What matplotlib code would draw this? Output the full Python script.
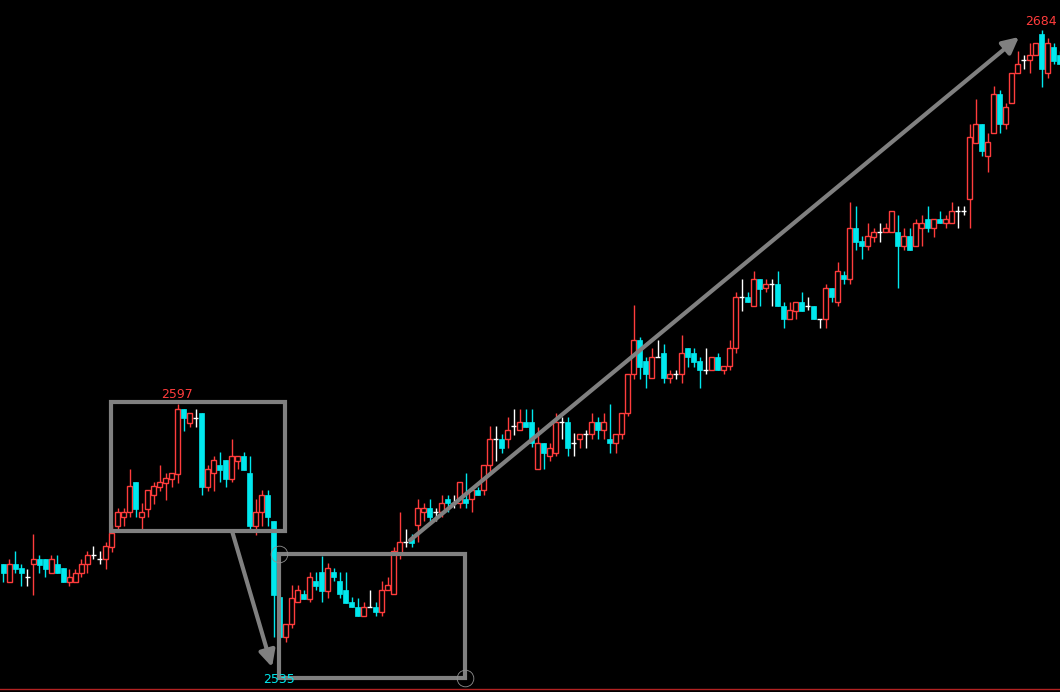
import matplotlib
matplotlib.use('Agg')
import matplotlib.pyplot as plt
from matplotlib.patches import Rectangle

UP = '#ff3c3c'
DOWN = '#00e8ee'
DOJI = '#ffffff'
ANNO = '#808080'

opens = [2559.8, 2555.6, 2559.8, 2558.8, 2556.7, 2559.8, 2560.9, 2560.9, 2557.7, 2559.8,
         2558.8, 2555.6, 2555.6, 2557.7, 2559.8, 2561.9, 2560.9, 2560.9, 2563.7, 2568.6,
         2570.7, 2571.9, 2578.8, 2570.7, 2572.6, 2575.8, 2577.7, 2578.6, 2579.5, 2580.7,
         2595.8, 2592.6, 2593.7, 2594.9, 2577.7, 2580.9, 2582.8, 2584.0, 2579.5, 2583.7,
         2584.9, 2580.9, 2568.6, 2571.9, 2575.8, 2569.8, 2552.1, 2542.8, 2545.8, 2550.9,
         2552.8, 2551.6, 2555.8, 2557.9, 2553.5, 2557.9, 2555.8, 2553.7, 2550.9, 2549.8,
         2547.7, 2549.8, 2549.8, 2548.6, 2553.7, 2552.8, 2562.3, 2564.9, 2565.6, 2568.8,
         2571.9, 2572.8, 2571.9, 2571.9, 2574.9, 2574.0, 2574.0, 2574.9, 2574.9, 2577.0,
         2577.0, 2582.8, 2588.8, 2588.8, 2588.8, 2591.9, 2590.9, 2592.8, 2592.8, 2581.9,
         2587.9, 2584.9, 2585.6, 2592.8, 2592.8, 2587.9, 2588.8, 2590.0, 2590.0, 2592.8,
         2590.9, 2588.8, 2587.9, 2590.0, 2594.9, 2604.0, 2611.9, 2607.0, 2603.0, 2607.9,
         2608.9, 2603.0, 2604.0, 2604.0, 2610.0, 2608.9, 2607.0, 2604.9, 2604.9, 2607.9,
         2604.9, 2605.8, 2610.0, 2621.9, 2621.9, 2619.8, 2626.1, 2624.0, 2624.9, 2624.9,
         2619.8, 2616.8, 2618.6, 2620.7, 2619.8, 2619.8, 2616.8, 2616.8, 2624.0, 2620.7,
         2627.0, 2626.1, 2637.9, 2634.9, 2633.8, 2635.9, 2637.0, 2637.0, 2637.0, 2637.0,
         2633.8, 2636.1, 2633.8, 2637.9, 2640.0, 2637.9, 2640.0, 2639.1, 2639.1, 2641.9,
         2641.9, 2644.7, 2657.7, 2662.1, 2654.7, 2660.1, 2669.1, 2662.1, 2667.0, 2674.0,
         2677.0, 2677.0, 2678.2, 2683.1, 2674.0, 2680.1, 2678.2]
highs = [2559.8, 2560.9, 2562.8, 2559.8, 2558.6, 2566.7, 2561.9, 2560.9, 2561.9, 2561.9,
         2558.8, 2558.6, 2558.6, 2560.9, 2562.8, 2563.9, 2562.8, 2564.9, 2568.8, 2572.8,
         2572.8, 2581.9, 2578.8, 2574.0, 2577.0, 2578.8, 2582.8, 2580.9, 2580.9, 2597.0,
         2595.8, 2594.9, 2595.8, 2594.9, 2582.8, 2584.9, 2585.8, 2584.0, 2588.8, 2584.9,
         2585.8, 2584.9, 2574.9, 2577.0, 2577.0, 2569.8, 2552.1, 2545.8, 2554.9, 2554.9,
         2553.7, 2557.9, 2557.9, 2561.6, 2560.0, 2558.8, 2557.9, 2557.9, 2552.1, 2551.8,
         2550.9, 2553.7, 2550.9, 2555.8, 2556.7, 2563.7, 2571.9, 2567.9, 2566.7, 2574.9,
         2574.0, 2574.9, 2572.8, 2575.8, 2575.8, 2575.8, 2578.8, 2580.9, 2577.0, 2577.7,
         2582.8, 2591.9, 2591.9, 2590.0, 2594.0, 2595.8, 2595.8, 2595.8, 2595.8, 2591.6,
         2587.9, 2587.9, 2594.9, 2594.0, 2594.0, 2590.2, 2590.0, 2590.9, 2594.9, 2594.0,
         2594.9, 2597.0, 2590.0, 2594.9, 2604.0, 2620.0, 2612.6, 2607.9, 2610.0, 2611.9,
         2611.0, 2604.9, 2604.9, 2613.0, 2610.0, 2610.0, 2607.9, 2610.0, 2607.9, 2608.9,
         2605.8, 2611.9, 2623.1, 2626.1, 2623.1, 2627.9, 2626.1, 2626.1, 2626.1, 2627.9,
         2620.7, 2620.7, 2620.7, 2623.1, 2621.9, 2619.8, 2616.8, 2624.9, 2624.0, 2630.0,
         2627.9, 2644.0, 2643.1, 2636.1, 2639.1, 2637.9, 2639.1, 2639.1, 2641.9, 2641.0,
         2637.9, 2637.9, 2640.0, 2641.0, 2643.1, 2640.0, 2641.9, 2641.0, 2644.0, 2643.1,
         2643.1, 2662.1, 2668.0, 2662.1, 2660.1, 2671.0, 2670.1, 2667.0, 2674.0, 2679.1,
         2678.2, 2681.0, 2681.0, 2684.0, 2682.2, 2681.0, 2679.1]
lows = [2555.6, 2555.6, 2557.7, 2554.6, 2554.6, 2552.5, 2557.7, 2556.7, 2557.7, 2557.7,
        2555.6, 2554.6, 2555.6, 2556.7, 2557.7, 2560.9, 2559.8, 2558.6, 2562.5, 2567.9,
        2568.6, 2570.7, 2570.7, 2567.9, 2570.7, 2573.7, 2576.7, 2574.6, 2577.7, 2578.6,
        2590.7, 2591.6, 2591.6, 2575.8, 2576.7, 2576.7, 2578.8, 2577.7, 2578.8, 2581.9,
        2581.6, 2567.9, 2566.5, 2568.6, 2568.6, 2542.8, 2542.5, 2541.6, 2544.9, 2550.9,
        2551.6, 2550.9, 2553.7, 2550.9, 2551.8, 2555.8, 2551.8, 2550.7, 2549.8, 2547.7,
        2547.7, 2549.8, 2547.7, 2547.7, 2553.7, 2552.8, 2560.9, 2563.7, 2563.7, 2564.9,
        2569.8, 2569.8, 2569.8, 2570.7, 2571.9, 2572.8, 2572.8, 2572.8, 2571.9, 2575.8,
        2575.8, 2580.9, 2583.7, 2585.6, 2586.8, 2589.8, 2590.9, 2591.6, 2587.0, 2581.9,
        2581.9, 2583.7, 2584.9, 2588.8, 2584.9, 2584.9, 2586.8, 2586.8, 2588.8, 2588.8,
        2588.8, 2585.6, 2585.6, 2588.8, 2594.2, 2602.8, 2602.8, 2600.7, 2603.0, 2607.9,
        2601.9, 2601.9, 2602.8, 2601.9, 2605.6, 2605.6, 2600.7, 2604.0, 2604.9, 2604.9,
        2604.0, 2604.9, 2608.9, 2618.7, 2620.7, 2619.8, 2619.8, 2623.1, 2619.8, 2619.8,
        2614.7, 2616.8, 2616.8, 2618.6, 2618.9, 2616.8, 2614.7, 2614.7, 2620.7, 2619.8,
        2624.9, 2624.9, 2632.8, 2630.7, 2632.8, 2634.7, 2634.7, 2637.0, 2637.0, 2624.0,
        2632.8, 2632.8, 2633.8, 2633.8, 2637.0, 2635.9, 2639.1, 2637.9, 2639.1, 2637.9,
        2641.0, 2637.9, 2657.7, 2654.7, 2651.0, 2660.1, 2660.1, 2661.0, 2667.0, 2674.0,
        2674.9, 2674.0, 2678.2, 2670.8, 2672.8, 2676.1, 2676.1]
closes = [2557.7, 2559.8, 2558.6, 2557.7, 2556.7, 2560.9, 2559.5, 2558.6, 2560.9, 2557.7,
          2555.6, 2556.7, 2557.7, 2559.8, 2561.9, 2561.9, 2560.9, 2563.9, 2567.0, 2571.9,
          2571.9, 2577.9, 2572.6, 2571.9, 2577.0, 2577.9, 2578.8, 2579.8, 2580.9, 2595.8,
          2593.7, 2594.9, 2593.7, 2577.7, 2581.9, 2584.0, 2581.6, 2579.5, 2584.9, 2584.9,
          2581.6, 2568.6, 2571.9, 2575.8, 2570.7, 2552.5, 2542.8, 2545.8, 2551.8, 2553.7,
          2551.6, 2556.7, 2554.6, 2553.5, 2558.8, 2556.7, 2552.8, 2550.7, 2549.8, 2547.7,
          2549.8, 2549.8, 2548.6, 2553.7, 2554.9, 2562.8, 2564.9, 2564.9, 2564.6, 2572.8,
          2572.8, 2570.7, 2571.9, 2574.0, 2574.0, 2574.0, 2578.8, 2574.0, 2577.0, 2575.8,
          2582.8, 2588.8, 2588.8, 2586.8, 2590.9, 2591.9, 2592.8, 2591.6, 2587.9, 2587.9,
          2585.6, 2586.8, 2592.8, 2592.8, 2586.8, 2587.9, 2590.0, 2590.0, 2592.8, 2590.9,
          2592.8, 2587.9, 2590.0, 2594.9, 2604.0, 2611.9, 2605.6, 2604.0, 2607.9, 2607.9,
          2603.0, 2604.0, 2604.0, 2608.9, 2607.9, 2606.8, 2604.9, 2604.9, 2607.9, 2604.9,
          2605.8, 2610.0, 2621.9, 2621.9, 2620.7, 2626.1, 2623.7, 2624.9, 2624.9, 2619.8,
          2616.8, 2618.9, 2620.7, 2618.6, 2619.8, 2616.8, 2616.8, 2624.0, 2621.9, 2627.9,
          2626.1, 2637.9, 2634.7, 2633.8, 2636.1, 2637.0, 2637.0, 2637.9, 2641.9, 2633.8,
          2636.1, 2632.8, 2639.1, 2639.1, 2637.9, 2640.0, 2639.1, 2640.0, 2641.9, 2641.9,
          2641.9, 2659.1, 2662.1, 2655.9, 2658.0, 2669.1, 2662.1, 2666.1, 2674.0, 2676.1,
          2677.0, 2678.2, 2681.0, 2674.9, 2681.0, 2676.8, 2676.1]

# annotations
box_hi = (17.9, 46.9, 2567.4, 2597.5)
box_lo = (45.9, 76.9, 2533.2, 2562.1)
arrow_down = ((38.1, 2567.4), (44.75, 2535.8))
arrow_up = ((67.75, 2565.3), (169.25, 2682.4))
circles = [(45.9, 2562.1), (76.9, 2533.2)]
labels = [('2597', 28.9, 2599.1, UP), ('2684', 172.9, 2685.9, UP), ('2535', 45.9, 2533.0, DOWN)]


def draw_candles(ax):
    w = 0.72
    for i, (o, h, l, c) in enumerate(zip(opens, highs, lows, closes)):
        if c > o:
            col = UP
        elif c < o:
            col = DOWN
        else:
            col = DOJI
        ax.vlines(i, l, h, color=col, lw=1.0, zorder=2)
        if col == DOJI:
            ax.hlines(o, i - w / 2, i + w / 2, color=col, lw=1.0, zorder=3)
        elif col == UP:
            ax.add_patch(Rectangle((i - w / 2, o), w, c - o, facecolor='black',
                                   edgecolor=col, lw=1.0, zorder=3))
        else:
            ax.add_patch(Rectangle((i - w / 2, c), w, o - c, facecolor=col,
                                   edgecolor=col, lw=0.5, zorder=3))


def main():
    fig = plt.figure(figsize=(10.6, 6.92), dpi=100, facecolor='black')
    ax = fig.add_axes([0, 0, 1, 1])
    ax.set_facecolor('black')
    ax.set_xlim(-0.583, 176.08)
    ax.set_ylim(2530, 2691)
    ax.axis('off')

    draw_candles(ax)

    ax.axhline(2530.6, color='#b22222', lw=1.0, zorder=1)

    for x0, x1, y0, y1 in (box_hi, box_lo):
        ax.add_patch(Rectangle((x0, y0), x1 - x0, y1 - y0, fill=False,
                               edgecolor=ANNO, lw=3, zorder=5))

    for start, end in (arrow_down, arrow_up):
        ax.annotate('', xy=end, xytext=start,
                    arrowprops=dict(arrowstyle='-|>', color=ANNO, lw=3,
                                    mutation_scale=24, shrinkA=0, shrinkB=0),
                    zorder=6)

    for cx, cy in circles:
        ax.plot(cx, cy, 'o', ms=12, mfc='none', mec='#909090', mew=0.6, zorder=6)

    for txt, x, y, col in labels:
        ax.text(x, y, txt, color=col, fontsize=9, ha='center', va='center', zorder=7)

    fig.savefig('out.png', dpi=100, facecolor='black')


if __name__ == '__main__':
    main()
